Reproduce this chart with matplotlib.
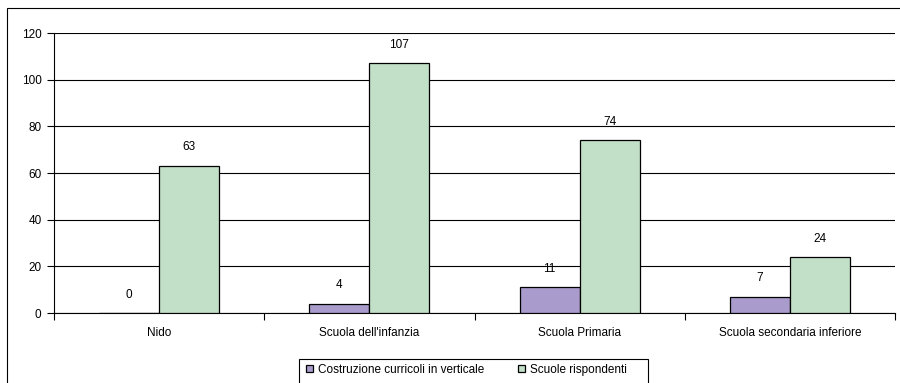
import matplotlib
matplotlib.use("Agg")
import matplotlib.pyplot as plt
import numpy as np
from matplotlib.patches import Rectangle

categories = ["Nido", "Scuola dell'infanzia", "Scuola Primaria", "Scuola secondaria inferiore"]
series_names = ["Costruzione curricoli in verticale", "Scuole rispondenti"]
curricoli = [0, 4, 11, 7]
rispondenti = [63, 107, 74, 24]
yticks = [0, 20, 40, 60, 80, 100, 120]

plt.rcParams['font.family'] = ['Liberation Sans', 'DejaVu Sans']
FS = 8.5

W, H = 900, 383
fig = plt.figure(figsize=(W/100, H/100), dpi=100)
ax = fig.add_axes([54/W, 1-313/H, (895-54)/W, 280/H])

x = np.arange(len(categories))
bw = 0.285
c1 = '#A99BCB'
c2 = '#C2E0C8'
b1 = ax.bar(x - bw/2, curricoli, bw, color=c1, edgecolor='black', linewidth=0.9, zorder=3, label=series_names[0])
b2 = ax.bar(x + bw/2, rispondenti, bw, color=c2, edgecolor='black', linewidth=0.9, zorder=3, label=series_names[1])

for xi, v in zip(x - bw/2, curricoli):
    ax.annotate(str(v), (xi, v), xytext=(0, 9), textcoords='offset points', ha='center', va='bottom', fontsize=FS)
for xi, v in zip(x + bw/2, rispondenti):
    ax.annotate(str(v), (xi, v), xytext=(0, 9), textcoords='offset points', ha='center', va='bottom', fontsize=FS)

ax.set_xlim(-0.5, len(categories) - 0.5)
ax.set_ylim(0, 120)
ax.set_yticks(yticks)
ax.set_yticklabels([str(t) for t in yticks], fontsize=FS)
ax.yaxis.grid(True, color='black', linewidth=0.8, zorder=0)
ax.set_axisbelow(True)

ax.set_xticks(x)
ax.set_xticklabels(categories, fontsize=FS)
ax.tick_params(axis='x', length=0, pad=10)
ax.set_xticks(np.arange(len(categories) + 1) - 0.5, minor=True)
ax.tick_params(axis='x', which='minor', length=5, width=0.8, direction='out')
ax.tick_params(axis='y', length=5, width=0.8, direction='out', pad=4)

for s in ['top', 'right']:
    ax.spines[s].set_visible(False)
ax.spines['left'].set_linewidth(0.8)
ax.spines['bottom'].set_linewidth(0.8)

leg = fig.legend(handles=[b1, b2], labels=series_names, loc='upper left',
                 bbox_to_anchor=(301/W, 1-359/H), ncol=2, fontsize=FS, frameon=False,
                 handlelength=0.6, handleheight=0.6,
                 handletextpad=0.4, columnspacing=2.9, borderpad=0.4, borderaxespad=0)

fig.patches.append(Rectangle((299/W, -0.1), (648-299)/W, 0.1 + 1-359/H, transform=fig.transFigure,
                             fill=False, edgecolor='black', linewidth=0.8))
fig.patches.append(Rectangle((7/W, -0.1), 1.2, 1-8/H+0.1, transform=fig.transFigure,
                             fill=False, edgecolor='black', linewidth=0.8))

fig.savefig("out.png", dpi=100)
